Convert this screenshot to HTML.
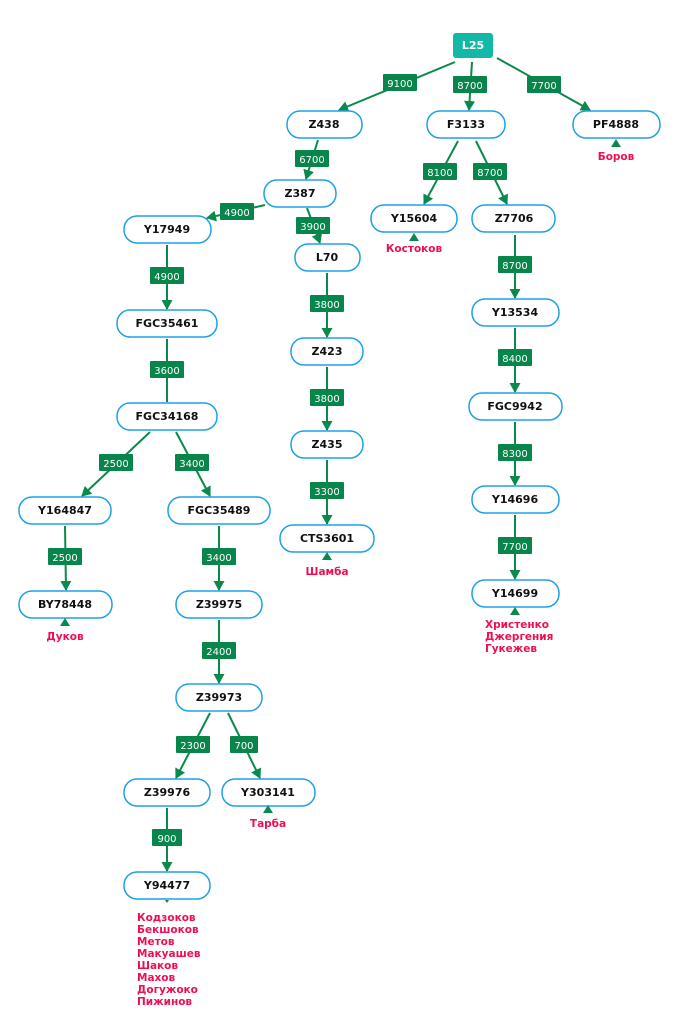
<!DOCTYPE html>
<html><head><meta charset="utf-8"><style>
html,body{margin:0;padding:0;background:#fff;}
svg{display:block;}
.n rect{fill:#fff;stroke:#1ea0e6;stroke-width:1.5;}
.n text{font:bold 11px "DejaVu Sans",sans-serif;fill:#111;text-anchor:middle;}
.e line{stroke:#0a8a4a;stroke-width:2;}
.l rect{fill:#07854a;}
.l text{font:10px "DejaVu Sans",sans-serif;fill:#fff;text-anchor:middle;}
.p{font:bold 10.5px "DejaVu Sans",sans-serif;fill:#ee0f52;}
</style></head><body>
<svg width="676" height="1024" viewBox="0 0 676 1024">
<defs><marker id="a" markerWidth="12" markerHeight="12" refX="9" refY="5.5" orient="auto" markerUnits="userSpaceOnUse"><path d="M0,0 L10,5.5 L0,11z" fill="#0a8a4a"/></marker></defs>
<g class="e">
<line x1="455" y1="62" x2="339" y2="110" marker-end="url(#a)"/>
<line x1="472" y1="62" x2="469" y2="110" marker-end="url(#a)"/>
<line x1="497" y1="58" x2="590" y2="110" marker-end="url(#a)"/>
<line x1="318" y1="140" x2="306" y2="179" marker-end="url(#a)"/>
<line x1="265" y1="205" x2="207" y2="218" marker-end="url(#a)"/>
<line x1="307" y1="208" x2="320" y2="243" marker-end="url(#a)"/>
<line x1="458" y1="141" x2="424" y2="204" marker-end="url(#a)"/>
<line x1="476" y1="141" x2="507" y2="204" marker-end="url(#a)"/>
<line x1="515" y1="235" x2="515" y2="298" marker-end="url(#a)"/>
<line x1="167" y1="245" x2="167" y2="309" marker-end="url(#a)"/>
<line x1="327" y1="273" x2="327" y2="337" marker-end="url(#a)"/>
<line x1="167" y1="339" x2="167" y2="402"/>
<line x1="515" y1="328" x2="515" y2="392" marker-end="url(#a)"/>
<line x1="327" y1="367" x2="327" y2="430" marker-end="url(#a)"/>
<line x1="150" y1="432" x2="82" y2="496" marker-end="url(#a)"/>
<line x1="176" y1="432" x2="210" y2="496" marker-end="url(#a)"/>
<line x1="515" y1="515" x2="515" y2="579" marker-end="url(#a)"/>
<line x1="515" y1="422" x2="515" y2="485" marker-end="url(#a)"/>
<line x1="327" y1="460" x2="327" y2="524" marker-end="url(#a)"/>
<line x1="65" y1="526" x2="66" y2="590" marker-end="url(#a)"/>
<line x1="219" y1="526" x2="219" y2="590" marker-end="url(#a)"/>
<line x1="219" y1="620" x2="219" y2="683" marker-end="url(#a)"/>
<line x1="210" y1="713" x2="176" y2="778" marker-end="url(#a)"/>
<line x1="228" y1="713" x2="260" y2="778" marker-end="url(#a)"/>
<line x1="167" y1="808" x2="167" y2="871" marker-end="url(#a)"/>
</g>
<g class="l">
<rect x="383" y="74" width="34" height="17" rx="1"/><text x="400" y="87">9100</text>
<rect x="453" y="76" width="34" height="17" rx="1"/><text x="470" y="89">8700</text>
<rect x="527" y="76" width="34" height="17" rx="1"/><text x="544" y="89">7700</text>
<rect x="295" y="150" width="34" height="17" rx="1"/><text x="312" y="163">6700</text>
<rect x="220" y="203" width="34" height="17" rx="1"/><text x="237" y="216">4900</text>
<rect x="296" y="217" width="34" height="17" rx="1"/><text x="313" y="230">3900</text>
<rect x="423" y="163" width="34" height="17" rx="1"/><text x="440" y="176">8100</text>
<rect x="473" y="163" width="34" height="17" rx="1"/><text x="490" y="176">8700</text>
<rect x="498" y="256" width="34" height="17" rx="1"/><text x="515" y="269">8700</text>
<rect x="150" y="267" width="34" height="17" rx="1"/><text x="167" y="280">4900</text>
<rect x="310" y="295" width="34" height="17" rx="1"/><text x="327" y="308">3800</text>
<rect x="150" y="361" width="34" height="17" rx="1"/><text x="167" y="374">3600</text>
<rect x="498" y="349" width="34" height="17" rx="1"/><text x="515" y="362">8400</text>
<rect x="310" y="389" width="34" height="17" rx="1"/><text x="327" y="402">3800</text>
<rect x="99" y="454" width="34" height="17" rx="1"/><text x="116" y="467">2500</text>
<rect x="175" y="454" width="34" height="17" rx="1"/><text x="192" y="467">3400</text>
<rect x="498" y="444" width="34" height="17" rx="1"/><text x="515" y="457">8300</text>
<rect x="310" y="482" width="34" height="17" rx="1"/><text x="327" y="495">3300</text>
<rect x="48" y="548" width="34" height="17" rx="1"/><text x="65" y="561">2500</text>
<rect x="202" y="548" width="34" height="17" rx="1"/><text x="219" y="561">3400</text>
<rect x="498" y="537" width="34" height="17" rx="1"/><text x="515" y="550">7700</text>
<rect x="202" y="642" width="34" height="17" rx="1"/><text x="219" y="655">2400</text>
<rect x="176" y="736" width="34" height="17" rx="1"/><text x="193" y="749">2300</text>
<rect x="230" y="736" width="28" height="17" rx="1"/><text x="244" y="749">700</text>
<rect x="152" y="829" width="30" height="17" rx="1"/><text x="167" y="842">900</text>
</g>
<rect x="453" y="33" width="40" height="25" rx="3" fill="#14b8a6"/>
<text x="473" y="49" style="font:bold 11px 'DejaVu Sans',sans-serif;fill:#fff;text-anchor:middle">L25</text>
<g class="n">
<rect x="287" y="111" width="75" height="27" rx="13"/><text x="324" y="128">Z438</text>
<rect x="427" y="111" width="78" height="27" rx="13"/><text x="466" y="128">F3133</text>
<rect x="573" y="111" width="87" height="27" rx="13"/><text x="616" y="128">PF4888</text>
<rect x="264" y="180" width="72" height="27" rx="13"/><text x="300" y="197">Z387</text>
<rect x="124" y="216" width="87" height="27" rx="13"/><text x="167" y="233">Y17949</text>
<rect x="371" y="205" width="86" height="27" rx="13"/><text x="414" y="222">Y15604</text>
<rect x="472" y="205" width="83" height="27" rx="13"/><text x="514" y="222">Z7706</text>
<rect x="295" y="244" width="65" height="27" rx="13"/><text x="327" y="261">L70</text>
<rect x="117" y="310" width="100" height="27" rx="13"/><text x="167" y="327">FGC35461</text>
<rect x="472" y="299" width="87" height="27" rx="13"/><text x="515" y="316">Y13534</text>
<rect x="291" y="338" width="72" height="27" rx="13"/><text x="327" y="355">Z423</text>
<rect x="117" y="403" width="100" height="27" rx="13"/><text x="167" y="420">FGC34168</text>
<rect x="469" y="393" width="93" height="27" rx="13"/><text x="515" y="410">FGC9942</text>
<rect x="291" y="431" width="72" height="27" rx="13"/><text x="327" y="448">Z435</text>
<rect x="19" y="497" width="92" height="27" rx="13"/><text x="65" y="514">Y164847</text>
<rect x="168" y="497" width="102" height="27" rx="13"/><text x="219" y="514">FGC35489</text>
<rect x="472" y="486" width="87" height="27" rx="13"/><text x="515" y="503">Y14696</text>
<rect x="280" y="525" width="94" height="27" rx="13"/><text x="327" y="542">CTS3601</text>
<rect x="19" y="591" width="93" height="27" rx="13"/><text x="65" y="608">BY78448</text>
<rect x="176" y="591" width="86" height="27" rx="13"/><text x="219" y="608">Z39975</text>
<rect x="472" y="580" width="87" height="27" rx="13"/><text x="515" y="597">Y14699</text>
<rect x="176" y="684" width="86" height="27" rx="13"/><text x="219" y="701">Z39973</text>
<rect x="124" y="779" width="86" height="27" rx="13"/><text x="167" y="796">Z39976</text>
<rect x="222" y="779" width="93" height="27" rx="13"/><text x="268" y="796">Y303141</text>
<rect x="124" y="872" width="86" height="27" rx="13"/><text x="167" y="889">Y94477</text>
</g>
<g fill="#0a8a4a">
<path d="M611,147 L616,139 L621,147z"/>
<path d="M409,241 L414,233 L419,241z"/>
<path d="M60,626 L65,618 L70,626z"/>
<path d="M322,560 L327,552 L332,560z"/>
<path d="M510,615 L515,607 L520,615z"/>
<path d="M263,813 L268,805 L273,813z"/>
<path d="M165,900 L167,903 L169,900z"/>
</g>
<g class="p">
<text x="616" y="160" text-anchor="middle">Боров</text>
<text x="414" y="252" text-anchor="middle">Костоков</text>
<text x="65" y="640" text-anchor="middle">Дуков</text>
<text x="327" y="575" text-anchor="middle">Шамба</text>
<text x="268" y="827" text-anchor="middle">Тарба</text>
<text x="485" y="628">Христенко</text>
<text x="485" y="640">Джергения</text>
<text x="485" y="652">Гукежев</text>
<text x="137" y="921">Кодзоков</text>
<text x="137" y="933">Бекшоков</text>
<text x="137" y="945">Метов</text>
<text x="137" y="957">Макуашев</text>
<text x="137" y="969">Шаков</text>
<text x="137" y="981">Махов</text>
<text x="137" y="993">Догужоко</text>
<text x="137" y="1005">Пижинов</text>
</g>
</svg>
</body></html>
